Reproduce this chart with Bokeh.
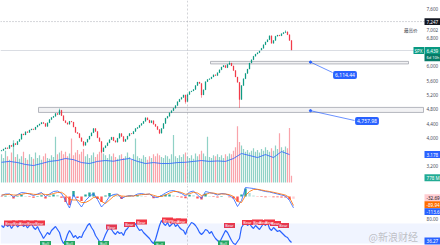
from bokeh.plotting import figure
from bokeh.layouts import column
from bokeh.models import Range1d, Span, Label, BoxAnnotation
from bokeh.embed import file_html
from bokeh.resources import INLINE
from bokeh.core.properties import value

# ---------------- data ----------------
closes = [3650, 3690, 3720, 3700, 3790, 3760, 3840, 3810, 3900, 3960,
          4110, 4080, 4170, 4150, 4220, 4250, 4230, 4300, 4350, 4390,
          4430, 4400, 4320, 4420, 4510, 4570, 4600, 4680, 4650, 4770,
          4620, 4480, 4420, 4380, 4460, 4440, 4300, 4150, 4120, 4000,
          3900, 3790, 3880, 3960, 4050, 4140, 4260, 4180, 4000, 3900,
          3610, 3720, 3780, 3860, 3950, 4020, 3920, 3880, 3990, 4120,
          4040, 3900, 3960, 4050, 4120, 4110, 4180, 4260, 4290, 4350,
          4400, 4460, 4560, 4500, 4420, 4480, 4380, 4320, 4230, 4130,
          4260, 4400, 4550, 4600, 4700, 4760, 4830, 4900, 5010, 5080,
          5130, 5200, 5010, 5210, 5290, 5310, 5350, 5460, 5560, 5520,
          5200, 5340, 5570, 5630, 5650, 5700, 5760, 5740, 5820, 5900,
          5980, 6020, 5960, 6050, 6090, 6010, 5880, 5700, 5550, 5070,
          5460, 5650, 5800, 5920, 6090, 6180, 6280, 6340, 6380, 6440,
          6500, 6600, 6680, 6740, 6850, 6640, 6720, 6840, 6870, 6850,
          6910, 6940, 6960, 6880, 6720, 6439]
first_open = 3630
low_idx = [41, 50, 79, 92, 100, 119]
low_val = [3760, 3577, 4105, 4955, 5120, 4835]
high_idx = [29, 114, 142]
high_val = [4818, 6147, 7002]

volumes_b = [3.2, 2.8, 3.6, 3.0, 2.6, 3.4, 4.8, 2.9, 3.2, 2.7,
             3.0, 3.5, 2.8, 2.6, 3.2, 2.9, 2.7, 3.4, 2.8, 3.1,
             2.6, 3.0, 3.3, 2.8, 2.7, 3.1, 2.9, 5.2, 3.2, 3.4,
             3.6, 3.2, 3.5, 3.0, 3.3, 5.0, 3.1, 3.4, 3.7, 3.2,
             3.5, 3.8, 3.0, 3.2, 2.8, 3.1, 3.4, 2.9, 3.2, 3.5,
             3.7, 3.3, 3.1, 2.8, 3.2, 3.0, 3.3, 2.9, 2.7, 3.1,
             3.2, 2.8, 3.0, 3.4, 2.9, 2.6, 3.2, 5.0, 3.0, 2.8,
             2.7, 3.1, 2.9, 2.6, 3.0, 2.8, 3.2, 3.0, 3.3, 3.1,
             2.9, 2.8, 3.1, 3.0, 2.7, 3.2, 5.4, 3.0, 2.8, 3.1,
             2.9, 3.2, 3.4, 3.0, 2.8, 3.1, 2.7, 3.3, 3.0, 3.2,
             3.6, 3.3, 3.0, 5.2, 2.9, 2.8, 3.1, 3.0, 3.2, 2.9,
             3.1, 2.8, 3.2, 3.0, 3.3, 3.2, 3.6, 4.0, 6.4, 4.6,
             4.2, 3.8, 3.5, 3.7, 3.4, 3.6, 3.9, 3.5, 3.7, 3.4,
             3.8, 3.6, 4.0, 3.7, 3.5, 3.9, 3.6, 4.2, 3.8, 5.6,
             4.0, 3.7, 4.1, 3.9, 6.2, 0.778]
vol_ma_b = [2.3, 2.4, 2.27, 2.05, 1.93, 2.16, 2.4, 2.5, 2.73, 2.6,
            2.27, 2.16, 2.4, 2.5, 2.42, 2.6, 2.73, 2.4, 2.16, 2.27,
            2.16, 2.16, 2.27, 2.3, 2.4, 2.5, 2.4, 2.45, 2.4, 2.73,
            3.3, 3.07, 2.84, 3.18, 2.84, 3.52, 3.178]

macd = [10, 25, 25, -5, 20, 40, 35, 25, 10, 25,
        40, 0, 25, 50, 55, 30, -40, -115, 20, -50,
        -105, -40, 0, 30, -30, -105, -60, 0, 20, 25,
        -20, 0, 10, 5, 25, 30, 20, 25, -5, -10,
        10, 35, 55, 60, 45, 30, 5, 45, 55, 15,
        -20, 50, 40, 30, 15, 30, 25, 10, -20, -100,
        -40, 90, 85, 80, 70, 60, 50, 45, 35, 25,
        15, 5, -40, -113.6]
signal = [15, 18, 22, 15, 14, 22, 30, 30, 22, 20,
          27, 20, 18, 30, 40, 42, 15, -30, -35, -35,
          -60, -60, -40, -10, -5, -50, -70, -35, 0, 18,
          5, 2, 5, 5, 12, 20, 22, 24, 12, 0,
          0, 15, 35, 50, 50, 40, 22, 28, 42, 35,
          10, 20, 35, 35, 25, 25, 25, 18, 0, -50,
          -60, 10, 50, 70, 72, 65, 57, 50, 42, 33,
          24, 14, -10, -89.94]

rsi = [66, 62, 70, 64, 68, 60, 66, 71, 63, 67,
       72, 64, 68, 61, 66, 70, 62, 58, 64, 55,
       48, 40, 46, 52, 48, 56, 60, 64, 58, 52,
       38, 30, 36, 48, 56, 50, 42, 46, 40, 44,
       42, 52, 58, 66, 70, 62, 56, 46, 40, 34,
       30, 38, 48, 56, 62, 58, 52, 48, 54, 50,
       52, 46, 56, 60, 66, 70, 64, 70, 62, 56,
       58, 52, 48, 44, 40, 34, 30, 38, 52, 66,
       76, 70, 66, 72, 64, 68, 72, 64, 68, 62,
       58, 56, 48, 60, 66, 72, 70, 66, 60, 52,
       48, 52, 58, 56, 50, 54, 46, 40, 36, 32,
       40, 48, 56, 52, 44, 36, 30, 28, 34, 40,
       62, 68, 72, 66, 70, 64, 60, 66, 62, 58,
       64, 70, 66, 72, 60, 56, 62, 58, 54, 56,
       52, 48, 44, 42, 36, 32]
bear_idx = [4, 8, 11, 15, 19, 55, 64, 70, 83, 87, 90, 114, 123, 128, 131, 134, 137, 141]
bear_lvl = [71, 71, 71, 71, 71, 63, 68, 73, 77, 75, 75, 66, 72, 73, 72, 73, 70, 66]
bull_idx = [22, 34, 51, 79, 111]
bull_lvl = [30, 30, 30, 29, 31]

zone_start = [18.5, 104.5]
zone_end = [211, 203.5]
zone_lo = [4710, 6065]
zone_hi = [4850, 6135]
zone_value = [4757.98, 6114.44]
zone_text = ["4,757.98", "6,114.44"]

price_ticks = [7600, 6800, 6000, 5600, 5200, 4800, 4400, 4000, 3200]
price_tick_text = ["7,600", "6,800", "6,000", "5,600", "5,200",
                   "4,800", "4,400", "4,000", "3,200"]
cross_bar = 93
cross_price = 7247.17
high_price = 7002.28
last_price = 6439.31

# ---------------- styling ----------------
UP, DOWN = "#089981", "#F23645"
BLUE, ORANGE = "#2962FF", "#FF6D00"
FONT = "Noto Sans"
CJK = "Noto Sans CJK SC"
W = 440
TX = 426
xr = Range1d(-0.5, 219.5)


def make_fig(h, yr):
    f = figure(width=W, height=h, x_range=xr, y_range=yr, toolbar_location=None,
               output_backend="svg", min_border=0, x_axis_location=None,
               y_axis_location=None)
    f.grid.visible = False
    f.outline_line_color = None
    f.background_fill_color = "white"
    f.border_fill_color = "white"
    return f


def axis_text(f, y, text, x=TX, font=FONT, color="#4a4e59", size="4.6px",
              align="left", yname="default"):
    f.add_layout(Label(x=x, y=y, x_units="screen", y_range_name=yname, text=text,
                       text_font=font, text_font_size=size, text_color=color,
                       text_baseline="middle", text_align=align))


def tag(f, y, half, text, bg, fg="white", left=424, right=440, yname="default",
        size="4.6px", tx=TX, align="left"):
    f.add_layout(BoxAnnotation(left=left, right=right, left_units="screen",
                               right_units="screen", bottom=y - half, top=y + half,
                               y_range_name=yname, fill_color=bg, fill_alpha=1,
                               line_color=None))
    axis_text(f, y, text, x=tx, color=fg, size=size, align=align, yname=yname)


n = len(closes)
idx = list(range(n))
opens = [first_open] + closes[:-1]
highs = [max(o, c) for o, c in zip(opens, closes)]
lows = [min(o, c) for o, c in zip(opens, closes)]
for i, v in zip(low_idx, low_val):
    lows[i] = v
for i, v in zip(high_idx, high_val):
    highs[i] = v
colors = [UP if c >= o else DOWN for o, c in zip(opens, closes)]

# ---------------- price + volume pane ----------------
p1 = make_fig(185, Range1d(2669, 7836))
p1.extra_y_ranges = {"vol": Range1d(-0.34, 20.7)}

p1.vbar(x=idx, top=volumes_b, bottom=0, width=0.6, y_range_name="vol",
        fill_color=colors, line_color=None, fill_alpha=0.45)
p1.line(x=[4 * k for k in range(len(vol_ma_b))], y=vol_ma_b, y_range_name="vol",
        line_color=BLUE, line_width=0.9, line_alpha=0.9)

p1.add_layout(Span(location=last_price, dimension="width", line_color="#d1d4dc", line_width=0.8))
p1.add_layout(Span(location=cross_price, dimension="width", line_color="#9598a1",
                   line_width=0.8, line_dash="1 2"))

for s, e, lo, hi in zip(zone_start, zone_end, zone_lo, zone_hi):
    p1.quad(left=s, right=e, bottom=lo, top=hi, fill_color="#e9e9ec", fill_alpha=0.6,
            line_color="#a3a6af", line_width=0.8)

p1.segment(x0=idx, x1=idx, y0=lows, y1=highs, line_color=colors, line_width=0.5)
p1.vbar(x=idx, top=closes, bottom=opens, width=0.45, fill_color=colors, line_color=colors,
        line_width=0.3)

# callouts
anchor_x = 154.5
callout_end = [(176.5, 4485), (165.5, 5825)]
callout_center = [(182.75, 4471), (171.75, 5756)]
for zv, zt, (ex, ey), (cx, cy) in zip(zone_value, zone_text, callout_end, callout_center):
    p1.segment(x0=anchor_x, y0=zv, x1=ex, y1=ey, line_color=BLUE, line_width=0.7)
    p1.scatter(x=[anchor_x], y=[zv], size=2.2, color=BLUE)
    p1.add_layout(Label(x=cx, y=cy, text=zt, text_font=FONT, text_font_size="5px",
                        text_color="white", text_align="center", text_baseline="middle",
                        background_fill_color=BLUE, padding=2, border_radius=2))

for y, t in zip(price_ticks, price_tick_text):
    axis_text(p1, y, t)
axis_text(p1, high_price, "7,002")
axis_text(p1, high_price, "最高价", x=417, font=CJK, size="4.5px", align="right")
tag(p1, cross_price, 95, "7,247", "#131722")
tag(p1, last_price, 100, "6,439", UP)
tag(p1, last_price - 200, 100, "6d 10h", "#067a67", size="4px")
tag(p1, last_price, 100, "SPX", UP, left=413, right=423.5, tx=422, align="right")
tag(p1, 3.178, 0.4, "3.178", BLUE, yname="vol")
tag(p1, 0.55, 0.4, "778 M", "#22ab94", yname="vol")

# ---------------- MACD pane ----------------
p2 = make_fig(30, Range1d(-190, 110))
mx = [2 * k for k in range(len(macd))]
hist = [m - s for m, s in zip(macd, signal)]
hcol = []
for k, h in enumerate(hist):
    prev = hist[k - 1] if k > 0 else 0
    if h >= 0:
        hcol.append("#26A69A" if h >= prev else "#B2DFDB")
    else:
        hcol.append("#FF5252" if h <= prev else "#FFCDD2")
p2.vbar(x=mx, top=hist, bottom=0, width=1.2, fill_color=hcol, line_color=None)
p2.line(x=mx, y=macd, line_color=BLUE, line_width=0.8)
p2.line(x=mx, y=signal, line_color=ORANGE, line_width=0.8)
tag(p2, -12, 35, "-32.69", "#FFCDD2", fg="#131722")
tag(p2, -82, 35, "-89.94", ORANGE)
tag(p2, -152, 35, "-113.6", BLUE)

# ---------------- RSI pane ----------------
p3 = make_fig(30, Range1d(26, 86))
p3.add_layout(BoxAnnotation(bottom=30, top=70, fill_color=BLUE, fill_alpha=0.07, line_color=None))
p3.line(x=idx, y=rsi, line_color=BLUE, line_width=1.2)
p3.rect(x=bear_idx, y=bear_lvl, width=11, height=5, width_units="screen",
        height_units="screen", fill_color=DOWN, line_color=None)
p3.text(x=bear_idx, y=bear_lvl, text=["Bear"] * len(bear_idx), text_font=value(FONT),
        text_font_size="3.8px", text_color="white", text_align="center", text_baseline="middle")
p3.rect(x=bull_idx, y=bull_lvl, width=11, height=5, width_units="screen",
        height_units="screen", fill_color="#22ab5a", line_color=None)
p3.text(x=bull_idx, y=bull_lvl, text=["Bull"] * len(bull_idx), text_font=value(FONT),
        text_font_size="3.8px", text_color="white", text_align="center", text_baseline="middle")
axis_text(p3, 80, "80.00")
tag(p3, 35, 7, "36.27", BLUE)
p3.add_layout(Label(x=368, y=45, x_units="screen", text="@新浪财经", text_font=CJK,
                    text_font_size="10px", text_color="#8a8a8a", text_alpha=0.5,
                    text_baseline="middle"))

for f in (p1, p2, p3):
    f.add_layout(Span(location=cross_bar, dimension="height", line_color="#9598a1",
                      line_width=0.7, line_dash="2 2", line_alpha=0.6))

layout = column(p1, p2, p3, spacing=0)
open("out.html", "w").write(file_html(layout, INLINE))
